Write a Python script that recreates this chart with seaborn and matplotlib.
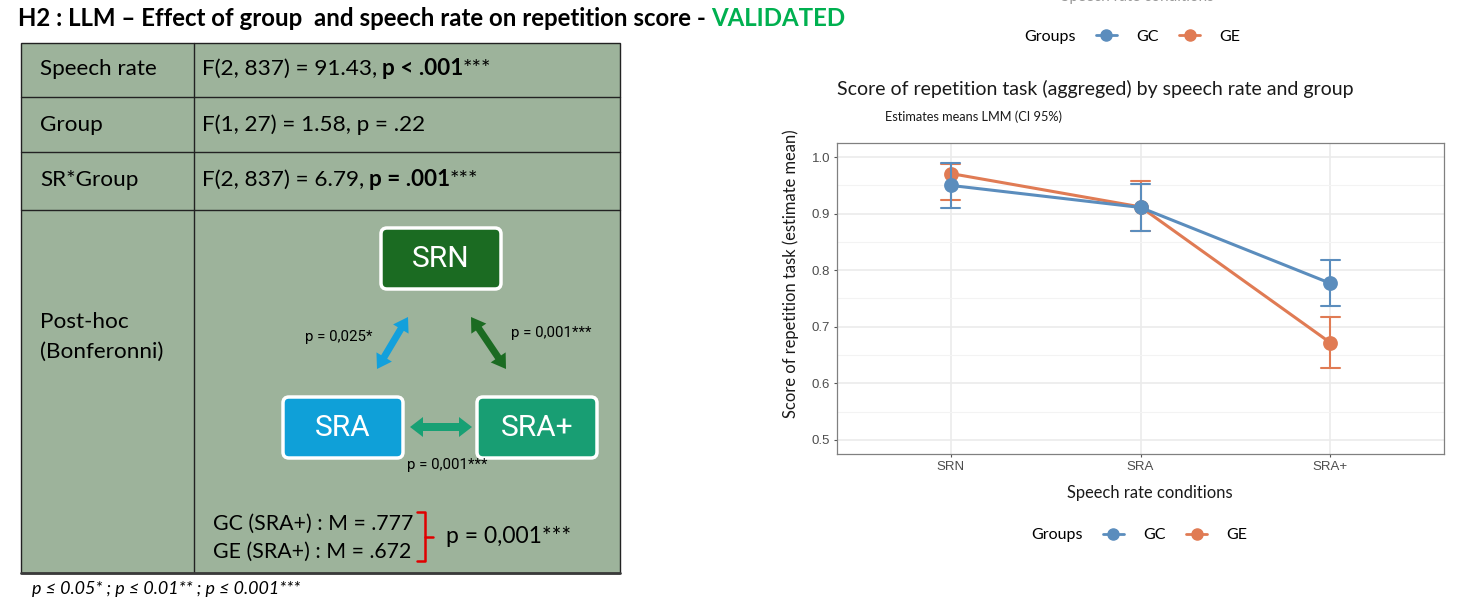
import matplotlib
matplotlib.use("Agg")
import matplotlib.pyplot as plt
import seaborn as sns
import pandas as pd
import numpy as np
from matplotlib.patches import Rectangle, FancyBboxPatch, Polygon
from matplotlib.lines import Line2D

# estimated means (LMM) and 95% CI
conditions = ["SRN", "SRA", "SRA+"]
groups = ["GC", "GE"]
gc_mean = [0.950, 0.911, 0.777]
gc_low = [0.910, 0.870, 0.737]
gc_high = [0.990, 0.953, 0.818]
ge_mean = [0.971, 0.912, 0.672]
ge_low = [0.925, 0.869, 0.627]
ge_high = [0.988, 0.957, 0.717]
group_colors = {"GC": "#5b8dbd", "GE": "#e07b54"}

# table content
row_labels = ["Speech rate", "Group", "SR*Group"]
row_stats = [
    [("F(2, 837) = 91.43,", "normal", 1), ("p < .001", "bold", 0), ("***", "normal", 0)],
    [("F(1, 27) = 1.58, p = .22", "normal", 0)],
    [("F(2, 837) = 6.79,", "normal", 1), ("p = .001", "bold", 0), ("***", "normal", 0)],
]
posthoc_means = ["GC (SRA+) : M = .777", "GE (SRA+) : M = .672"]

sns.set_style("white")
plt.rcParams["font.family"] = ["Lato", "DejaVu Sans"]
plt.rcParams["text.color"] = "black"

fig = plt.figure(figsize=(14.6, 6.16), dpi=100)
renderer = fig.canvas.get_renderer()

# background layer in pixel coordinates for the slide part
bg = fig.add_axes([0, 0, 1, 1])
bg.set_xlim(0, 1460)
bg.set_ylim(616, 0)
bg.axis("off")


def rich_text(x, y, parts, size):
    space = size * 100 / 72 * 0.2
    for s, w, gap, *col in parts:
        t = bg.text(x, y, s, fontsize=size, fontweight=w, va="baseline", ha="left",
                    color=col[0] if col else "black")
        x += t.get_window_extent(renderer).width + gap * space


def double_arrow(p0, p1, shaft, head_w, head_len, color):
    p0, p1 = np.array(p0, float), np.array(p1, float)
    u = (p1 - p0) / np.linalg.norm(p1 - p0)
    n = np.array([-u[1], u[0]])
    pts = [p0, p0 + u * head_len + n * head_w / 2, p0 + u * head_len + n * shaft / 2,
           p1 - u * head_len + n * shaft / 2, p1 - u * head_len + n * head_w / 2, p1,
           p1 - u * head_len - n * head_w / 2, p1 - u * head_len - n * shaft / 2,
           p0 + u * head_len - n * shaft / 2, p0 + u * head_len - n * head_w / 2]
    bg.add_patch(Polygon(pts, closed=True, fc=color, ec="none"))


# title
rich_text(18, 26, [("H2 : LLM \u2013 Effect of group  and speech rate on repetition score -", "bold", 1),
                   ("VALIDATED", "bold", 0, "#00b050")], 17.3)

# table
TR = 620
bg.add_patch(Rectangle((21, 43), TR - 21, 530, fc="#9db39b", ec="#222222", lw=1))
bg.plot([194, 194], [43, 573], color="#222222", lw=1)
for yy in [97, 152, 210]:
    bg.plot([21, TR], [yy, yy], color="#222222", lw=1)
bg.plot([21, TR], [573, 573], color="#3a3a3a", lw=2)

for lab, stats, base in zip(row_labels, row_stats, [75, 131, 186]):
    bg.text(40, base, lab, fontsize=16.2, va="baseline")
    rich_text(202, base, stats, 16.2)

bg.text(40, 328, "Post-hoc", fontsize=16.2, va="baseline")
bg.text(40, 358, "(Bonferonni)", fontsize=16.2, va="baseline")

# post-hoc diagram
boxes = [("SRN", 381, 228, "#1b6b22"), ("SRA", 283, 397, "#0fa0d8"), ("SRA+", 477, 397, "#189e73")]
for name, bx, by, col in boxes:
    bg.add_patch(FancyBboxPatch((bx, by), 120, 61, boxstyle="round,pad=0,rounding_size=6",
                                fc=col, ec="white", lw=2.5))
    bg.text(bx + 60, by + 31, name, fontsize=21.5, color="white", ha="center", va="center",
            family="Roboto")

double_arrow((377, 369), (408, 317), 7, 18, 14, "#12a0dc")
double_arrow((471, 317), (506, 369), 7, 18, 14, "#1b6b22")
double_arrow((410, 427), (472, 427), 8, 20, 13, "#18a074")
bg.text(305, 337, "p = 0,025*", fontsize=10.8, family="Roboto", va="center")
bg.text(511, 333, "p = 0,001***", fontsize=10.8, family="Roboto", va="center")
bg.text(407, 465, "p = 0,001***", fontsize=10.8, family="Roboto", va="center")

bg.text(213, 530, posthoc_means[0], fontsize=15.3, va="baseline")
bg.text(213, 558, posthoc_means[1], fontsize=15.3, va="baseline")
bg.plot([417, 425, 425, 417], [512, 512, 561, 561], color="#e00000", lw=1.8)
bg.plot([425, 433], [537, 537], color="#e00000", lw=1.8)
bg.text(446, 543, "p = 0,001***", fontsize=16.5, va="baseline")

bg.text(32, 594, "p \u2264 0.05* ; p \u2264 0.01** ; p \u2264 0.001***", fontsize=12.9,
        style="italic", va="baseline")

# chart
rows = []
for g, lo, me, hi in [("GC", gc_low, gc_mean, gc_high), ("GE", ge_low, ge_mean, ge_high)]:
    for c, a, b, d in zip(conditions, lo, me, hi):
        for v in (a, b, d):
            rows.append({"condition": c, "group": g, "score": v})
df = pd.DataFrame(rows)

ax = fig.add_axes([837 / 1460, 1 - 454 / 616, 607 / 1460, 311 / 616])
# GE first so that GC sits on top, as in the original
sns.pointplot(data=df, x="condition", y="score", hue="group", order=conditions,
              hue_order=["GE", "GC"], palette=group_colors, estimator="median",
              errorbar=("pi", 100), capsize=0.1, err_kws={"linewidth": 1.5},
              linewidth=2.2, markersize=9, dodge=False, legend=False, ax=ax)

ax.set_xlim(-0.6, 2.6)
ax.set_ylim(0.475, 1.025)
ax.set_yticks([0.5, 0.6, 0.7, 0.8, 0.9, 1.0])
ax.set_yticklabels(["0.5", "0.6", "0.7", "0.8", "0.9", "1.0"])
ax.set_yticks([0.55, 0.65, 0.75, 0.85, 0.95], minor=True)
ax.grid(which="major", color="#ebebeb", lw=1.2)
ax.grid(which="minor", axis="y", color="#f3f3f3", lw=0.8)
ax.set_axisbelow(True)
for sp in ax.spines.values():
    sp.set_visible(True)
    sp.set_color("#808080")
    sp.set_linewidth(0.9)
ax.tick_params(which="major", direction="out", length=2.5, width=0.8, color="#555555",
               labelcolor="#4d4d4d", labelsize=9.5, pad=2.5, left=True, bottom=True)
ax.tick_params(which="minor", length=0)
for lab in ax.get_xticklabels() + ax.get_yticklabels():
    lab.set_family("Liberation Sans")

ax.set_xlabel("Speech rate conditions", fontsize=11.9, color="#1a1a1a")
ax.set_ylabel("Score of repetition task (estimate mean)", fontsize=11.9, color="#1a1a1a")
ax.xaxis.label.set_va("center")
ax.yaxis.label.set_va("center")
ax.xaxis.set_label_coords((1150 - 837) / 607, (454 - 493) / 311)
ax.yaxis.set_label_coords((791 - 837) / 607, (454 - 274) / 311)

bg.text(837, 89, "Score of repetition task (aggreged) by speech rate and group", fontsize=14,
        va="center", ha="left", color="#1a1a1a")
bg.text(885, 117, "Estimates means LMM (CI 95%)", fontsize=9.2, va="center", ha="left",
        color="#1a1a1a")
# cut-off axis title left over at the top of the screenshot
bg.text(1137, -3, "Speech rate conditions", fontsize=11, va="center", ha="center", color="#9a9a9a")


def add_legend(cx, cy):
    handles = [Line2D([], [], linestyle="none")]
    handles += [Line2D([], [], color=group_colors[g], marker="o", markersize=8, lw=2) for g in groups]
    fig.legend(handles, ["Groups"] + groups, loc="center", ncol=3, frameon=False,
               bbox_to_anchor=(cx / 1460, 1 - cy / 616), handlelength=1.3,
               handletextpad=1.2, columnspacing=1.3, prop={"size": 11.5})


add_legend(1112, 37)
add_legend(1119, 535)

fig.savefig("out.png", dpi=100)
